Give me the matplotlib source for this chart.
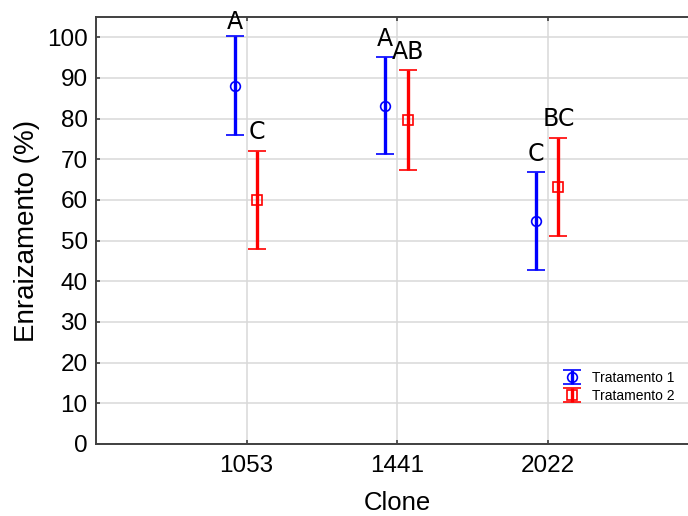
import matplotlib
matplotlib.use("Agg")
import matplotlib.pyplot as plt
import numpy as np

# data
clones = ["1053", "1441", "2022"]
trat1_mean = [88.1, 83.2, 54.8]
trat1_err = [12.2, 11.9, 12.0]
trat2_mean = [60.0, 79.7, 63.2]
trat2_err = [12.1, 12.3, 12.1]
trat1_letters = ["A", "A", "C"]
trat2_letters = ["C", "AB", "BC"]
series_names = ["Tratamento 1", "Tratamento 2"]

plt.rcParams['font.family'] = ['Liberation Sans', 'DejaVu Sans']

fig = plt.figure(figsize=(6.88, 5.16), dpi=100)
ax = fig.add_axes([96 / 688, 72 / 516, 602 / 688, 427 / 516])

x = np.arange(1, len(clones) + 1)
x1 = x - 0.078
x2 = x + 0.072

eb1 = ax.errorbar(x1, trat1_mean, yerr=trat1_err, fmt='o', color='#0000ff',
                  mfc='none', mec='#0000ff', ms=7, mew=1.2,
                  elinewidth=2.4, capsize=6.5, capthick=2.4, zorder=3,
                  label=series_names[0])
eb2 = ax.errorbar(x2, trat2_mean, yerr=trat2_err, fmt='s', color='#ff0000',
                  mfc='none', mec='#ff0000', ms=7, mew=1.2,
                  elinewidth=2.4, capsize=6.5, capthick=2.4, zorder=3,
                  label=series_names[1])

# letters above the bars
off1 = [0.6, 1.6, 1.6]
off2 = [1.6, 1.4, 1.7]
for i in range(len(clones)):
    ax.text(x1[i], trat1_mean[i] + trat1_err[i] + off1[i], trat1_letters[i],
            ha='center', va='bottom', fontsize=17, family='DejaVu Sans')
    ax.text(x2[i], trat2_mean[i] + trat2_err[i] + off2[i], trat2_letters[i],
            ha='center', va='bottom', fontsize=17, family='DejaVu Sans')

ax.set_xlim(0, 4)
ax.set_ylim(0, 105)
ax.set_xticks(x)
ax.set_xticklabels(clones)
ax.set_yticks(np.arange(0, 101, 10))

ax.grid(True, color='#d9d9d9', linewidth=1.1)
ax.set_axisbelow(True)
for s in ax.spines.values():
    s.set_color('#404040')
    s.set_linewidth(1.4)

ax.tick_params(direction='in', length=3, width=1.2, color='#404040',
               labelsize=17.5, top=True, right=True)
ax.tick_params(axis='x', pad=8)
ax.tick_params(axis='y', pad=6)

ax.set_xlabel("Clone", fontsize=18.5, labelpad=10)
ax.set_ylabel("Enraizamento (%)", fontsize=20, labelpad=5)

ax.legend(handles=[eb1, eb2], loc='center left',
          bbox_to_anchor=(560 / 688, 1 - 387 / 516),
          bbox_transform=fig.transFigure, frameon=False, fontsize=10,
          borderpad=0, borderaxespad=0, handlelength=1.7,
          handletextpad=0.6, labelspacing=0.3)

fig.savefig("out.png", dpi=100)
